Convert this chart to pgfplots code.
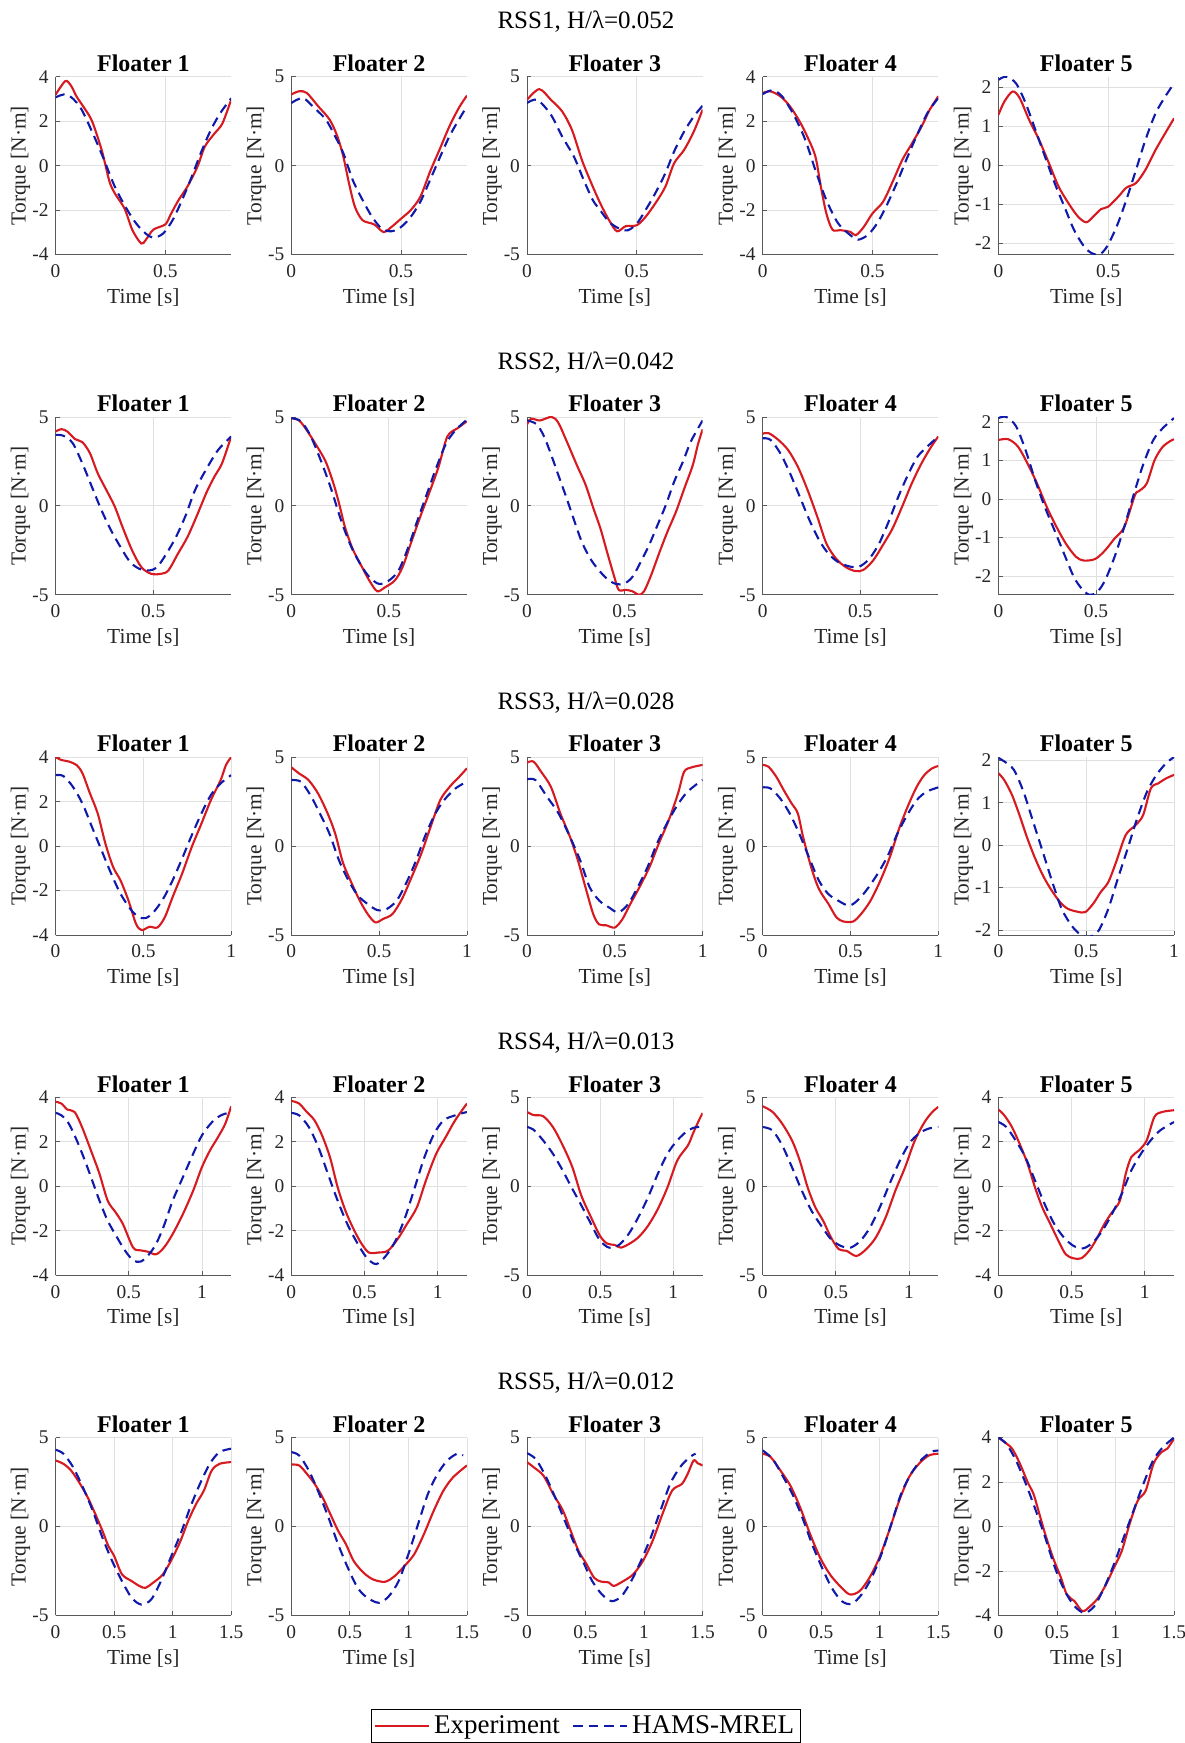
\documentclass[border=0pt]{standalone}
\usepackage{fontspec}
\setmainfont{Liberation Serif}
\usepackage{pgfplots}
\pgfplotsset{compat=1.18}
\definecolor{expred}{RGB}{215,25,32}
\definecolor{hamsblue}{RGB}{15,25,170}
\pgfplotsset{
  sub/.style={
    scale only axis, width=87.8pt, height=88.95pt, anchor=north west,
    axis lines*=left, xmin=0, enlargelimits=false,
    grid=major, major grid style={draw=black!12, line width=0.4pt},
    axis line style={draw=black!65, line width=0.5pt},
    tick style={draw=black!65, line width=0.4pt},
    tick align=inside, major tick length=2.2pt,
    xlabel={Time [s]}, ylabel={Torque [N·m]},
    /pgf/number format/assume math mode=true,
    ticklabel style={font=\fontsize{9.7}{11}\selectfont, text=black!85},
    xticklabel style={yshift=-1.5pt},
    label style={font=\fontsize{10.7}{12}\selectfont, text=black!85},
    xlabel style={yshift=1.6pt},
    ylabel style={yshift=-5.8pt},
    title style={font=\bfseries\fontsize{12}{14}\selectfont, yshift=-7pt},
    scaled ticks=false,
  },
  exp/.style={color=expred, solid, line width=1.05pt, smooth, tension=0.5},
  hams/.style={color=hamsblue, dash pattern=on 4.8pt off 3pt, line width=1.05pt, smooth, tension=0.5},
}
\begin{document}
\begin{tikzpicture}
\useasboundingbox (0,0) rectangle (592pt,-871.5pt);
\node[font=\fontsize{12.5}{14}\selectfont] at (293pt,-11pt) {RSS1, H/λ=0.052};
\node[font=\fontsize{12.5}{14}\selectfont] at (293pt,-181.1pt) {RSS2, H/λ=0.042};
\node[font=\fontsize{12.5}{14}\selectfont] at (293pt,-351.2pt) {RSS3, H/λ=0.028};
\node[font=\fontsize{12.5}{14}\selectfont] at (293pt,-521.3pt) {RSS4, H/λ=0.013};
\node[font=\fontsize{12.5}{14}\selectfont] at (293pt,-691.35pt) {RSS5, H/λ=0.012};

% ================= Row 1 =================
\begin{axis}[sub, at={(27.8pt,-38.35pt)}, xmax=0.8, ymin=-4, ymax=4, ytick={-4,-2,0,2,4}, xtick={0,0.5}, title={Floater 1}]
\addplot[exp] coordinates {(0,3.19)(0.044,3.8)(0.07,3.6)(0.096,3.1)(0.13,2.6)(0.166,2.0)(0.21,0.7)(0.245,-0.7)(0.27,-1.25)(0.314,-1.93)(0.35,-2.9)(0.39,-3.5)(0.41,-3.35)(0.445,-2.88)(0.5,-2.64)(0.524,-2.2)(0.56,-1.55)(0.6,-0.95)(0.646,-0.05)(0.68,0.86)(0.725,1.46)(0.76,1.9)(0.8,2.97)};
\addplot[hams] coordinates {(0,3.07)(0.052,3.2)(0.11,2.66)(0.166,1.53)(0.218,0.33)(0.27,-0.95)(0.323,-1.93)(0.367,-2.6)(0.41,-3.05)(0.445,-3.24)(0.49,-3.05)(0.533,-2.45)(0.576,-1.55)(0.62,-0.5)(0.664,0.63)(0.707,1.6)(0.75,2.36)(0.8,3.03)};
\end{axis}
\begin{axis}[sub, at={(145.65pt,-38.35pt)}, xmax=0.8, ymin=-5, ymax=5, ytick={-5,0,5}, xtick={0,0.5}, title={Floater 2}]
\addplot[exp] coordinates {(0,4.0)(0.035,4.18)(0.07,4.09)(0.123,3.33)(0.175,2.58)(0.21,1.64)(0.237,0.51)(0.263,-1.0)(0.29,-2.32)(0.325,-3.07)(0.377,-3.3)(0.42,-3.73)(0.456,-3.45)(0.5,-2.98)(0.544,-2.5)(0.588,-1.75)(0.632,-0.34)(0.675,0.89)(0.72,2.2)(0.763,3.24)(0.8,3.94)};
\addplot[hams] coordinates {(0,3.52)(0.053,3.8)(0.105,3.24)(0.158,2.58)(0.2,1.64)(0.237,0.7)(0.28,-0.81)(0.325,-1.94)(0.368,-2.88)(0.412,-3.54)(0.456,-3.69)(0.5,-3.45)(0.544,-2.88)(0.588,-2.03)(0.632,-0.81)(0.675,0.41)(0.72,1.64)(0.763,2.58)(0.8,3.33)};
\end{axis}
\begin{axis}[sub, at={(263.5pt,-38.35pt)}, xmax=0.8, ymin=-5, ymax=5, ytick={-5,0,5}, xtick={0,0.5}, title={Floater 3}]
\addplot[exp] coordinates {(0,3.7)(0.056,4.3)(0.109,3.7)(0.16,3.05)(0.205,2.0)(0.25,0.32)(0.29,-0.9)(0.333,-2.1)(0.374,-3.07)(0.41,-3.69)(0.45,-3.4)(0.5,-3.35)(0.54,-2.88)(0.584,-2.13)(0.63,-1.19)(0.67,0.13)(0.716,0.89)(0.76,1.92)(0.8,3.15)};
\addplot[hams] coordinates {(0,3.52)(0.047,3.7)(0.109,2.86)(0.16,1.64)(0.214,0.5)(0.258,-0.8)(0.3,-1.94)(0.333,-2.5)(0.374,-3.16)(0.42,-3.54)(0.46,-3.63)(0.5,-3.26)(0.54,-2.5)(0.584,-1.56)(0.63,-0.43)(0.67,0.79)(0.716,1.92)(0.76,2.77)(0.8,3.37)};
\end{axis}
\begin{axis}[sub, at={(381.35pt,-38.35pt)}, xmax=0.8, ymin=-4, ymax=4, ytick={-4,-2,0,2,4}, xtick={0,0.5}, title={Floater 4}]
\addplot[exp] coordinates {(0,3.27)(0.035,3.34)(0.08,3.12)(0.124,2.67)(0.168,1.99)(0.203,1.31)(0.24,0.41)(0.265,-0.95)(0.29,-2.15)(0.318,-2.88)(0.353,-2.9)(0.4,-2.98)(0.424,-3.13)(0.46,-2.76)(0.5,-2.15)(0.548,-1.63)(0.592,-0.72)(0.636,0.26)(0.68,1.0)(0.724,1.76)(0.76,2.5)(0.8,3.12)};
\addplot[hams] coordinates {(0,3.22)(0.044,3.39)(0.088,3.12)(0.141,2.29)(0.194,1.16)(0.24,-0.2)(0.29,-1.55)(0.344,-2.6)(0.4,-3.13)(0.433,-3.33)(0.477,-3.13)(0.521,-2.6)(0.565,-1.78)(0.61,-0.8)(0.654,0.26)(0.7,1.31)(0.75,2.36)(0.8,3.04)};
\end{axis}
\begin{axis}[sub, at={(499.2pt,-38.35pt)}, xmax=0.8, ymin=-2.3, ymax=2.27, ytick={-2,-1,0,1,2}, xtick={0,0.5}, title={Floater 5}]
\addplot[exp] coordinates {(0,1.29)(0.027,1.63)(0.065,1.89)(0.097,1.72)(0.14,1.16)(0.185,0.65)(0.23,0.05)(0.274,-0.55)(0.318,-0.97)(0.362,-1.32)(0.4,-1.47)(0.433,-1.32)(0.468,-1.13)(0.5,-1.07)(0.548,-0.8)(0.583,-0.58)(0.627,-0.46)(0.67,-0.12)(0.716,0.39)(0.76,0.82)(0.8,1.2)};
\addplot[hams] coordinates {(0,2.19)(0.035,2.27)(0.08,2.1)(0.124,1.59)(0.168,0.91)(0.212,0.22)(0.256,-0.46)(0.3,-1.06)(0.344,-1.66)(0.39,-2.09)(0.424,-2.26)(0.46,-2.3)(0.495,-2.09)(0.54,-1.56)(0.583,-0.89)(0.627,-0.12)(0.67,0.65)(0.716,1.33)(0.76,1.76)(0.8,2.1)};
\end{axis}

% ================= Row 2 =================
\begin{axis}[sub, at={(27.8pt,-208.45pt)}, xmax=0.9, ymin=-5, ymax=5, ytick={-5,0,5}, xtick={0,0.5}, title={Floater 1}]
\addplot[exp] coordinates {(0,4.18)(0.03,4.31)(0.06,4.18)(0.1,3.75)(0.137,3.58)(0.176,2.96)(0.216,1.83)(0.265,0.79)(0.304,-0.06)(0.343,-1.19)(0.392,-2.5)(0.44,-3.45)(0.49,-3.82)(0.54,-3.82)(0.578,-3.63)(0.627,-2.69)(0.676,-1.75)(0.725,-0.53)(0.775,0.79)(0.814,1.64)(0.853,2.39)(0.9,3.9)};
\addplot[hams] coordinates {(0,3.99)(0.04,3.94)(0.088,3.52)(0.137,2.39)(0.186,1.07)(0.235,-0.24)(0.284,-1.37)(0.333,-2.32)(0.382,-3.16)(0.43,-3.54)(0.48,-3.63)(0.52,-3.45)(0.568,-2.69)(0.617,-1.75)(0.667,-0.53)(0.715,0.89)(0.775,2.11)(0.833,3.14)(0.9,3.9)};
\end{axis}
\begin{axis}[sub, at={(145.65pt,-208.45pt)}, xmax=0.9, ymin=-5, ymax=5, ytick={-5,0,5}, xtick={0,0.5}, title={Floater 2}]
\addplot[exp] coordinates {(0,4.93)(0.04,4.8)(0.078,4.27)(0.127,3.43)(0.176,2.49)(0.216,1.26)(0.245,0.13)(0.275,-1.19)(0.314,-2.41)(0.363,-3.45)(0.4,-4.2)(0.44,-4.8)(0.48,-4.58)(0.53,-4.2)(0.57,-3.45)(0.618,-1.94)(0.667,-0.43)(0.706,0.7)(0.755,2.2)(0.8,3.9)(0.853,4.37)(0.9,4.75)};
\addplot[hams] coordinates {(0,4.93)(0.05,4.75)(0.1,3.9)(0.157,2.39)(0.206,0.89)(0.255,-0.81)(0.304,-2.22)(0.353,-3.26)(0.4,-4.0)(0.45,-4.39)(0.5,-4.2)(0.55,-3.63)(0.6,-2.32)(0.647,-0.81)(0.696,0.7)(0.745,2.2)(0.794,3.52)(0.843,4.27)(0.9,4.84)};
\end{axis}
\begin{axis}[sub, at={(263.5pt,-208.45pt)}, xmax=0.9, ymin=-5, ymax=5, ytick={-5,0,5}, xtick={0,0.5}, title={Floater 3}]
\addplot[exp] coordinates {(0,4.58)(0.022,4.9)(0.066,4.8)(0.126,5.0)(0.16,4.68)(0.203,3.64)(0.255,2.3)(0.3,1.19)(0.34,-0.13)(0.376,-1.26)(0.41,-2.58)(0.445,-3.9)(0.47,-4.72)(0.505,-4.72)(0.54,-4.8)(0.574,-5.0)(0.6,-4.8)(0.636,-3.9)(0.68,-2.58)(0.72,-1.45)(0.764,-0.32)(0.807,1.0)(0.85,2.3)(0.876,3.45)(0.9,4.3)};
\addplot[hams] coordinates {(0,4.81)(0.048,4.6)(0.083,4.0)(0.117,3.08)(0.16,1.75)(0.203,0.43)(0.238,-0.7)(0.28,-2.0)(0.324,-2.96)(0.367,-3.6)(0.41,-4.1)(0.453,-4.38)(0.497,-4.38)(0.54,-4.0)(0.583,-3.15)(0.626,-2.2)(0.669,-1.08)(0.712,0.06)(0.755,1.38)(0.798,2.45)(0.841,3.64)(0.9,4.8)};
\end{axis}
\begin{axis}[sub, at={(381.35pt,-208.45pt)}, xmax=0.9, ymin=-5, ymax=5, ytick={-5,0,5}, xtick={0,0.5}, title={Floater 4}]
\addplot[exp] coordinates {(0,4.05)(0.03,4.09)(0.08,3.71)(0.13,3.14)(0.18,2.2)(0.23,0.89)(0.28,-0.62)(0.327,-2.13)(0.377,-2.98)(0.427,-3.45)(0.476,-3.67)(0.516,-3.6)(0.566,-3.07)(0.615,-2.22)(0.665,-1.28)(0.714,-0.06)(0.764,1.26)(0.814,2.39)(0.864,3.33)(0.9,3.9)};
\addplot[hams] coordinates {(0,3.8)(0.04,3.71)(0.09,2.96)(0.14,1.83)(0.19,0.51)(0.24,-0.81)(0.29,-1.94)(0.337,-2.69)(0.387,-3.16)(0.446,-3.41)(0.496,-3.41)(0.546,-2.98)(0.596,-2.13)(0.645,-0.9)(0.695,0.51)(0.744,1.73)(0.794,2.77)(0.853,3.43)(0.9,3.9)};
\end{axis}
\begin{axis}[sub, at={(499.2pt,-208.45pt)}, xmax=0.9, ymin=-2.49, ymax=2.13, ytick={-2,-1,0,1,2}, xtick={0,0.5}, title={Floater 5}]
\addplot[exp] coordinates {(0,1.53)(0.05,1.55)(0.1,1.36)(0.149,0.92)(0.198,0.4)(0.248,-0.21)(0.298,-0.73)(0.347,-1.17)(0.397,-1.5)(0.437,-1.6)(0.496,-1.56)(0.546,-1.34)(0.595,-1.03)(0.645,-0.73)(0.7,0.1)(0.72,0.2)(0.76,0.4)(0.8,1.0)(0.84,1.34)(0.88,1.5)(0.9,1.55)};
\addplot[hams] coordinates {(0,2.1)(0.04,2.13)(0.09,1.89)(0.139,1.27)(0.188,0.49)(0.238,-0.21)(0.288,-0.82)(0.337,-1.43)(0.387,-2.03)(0.427,-2.33)(0.466,-2.49)(0.506,-2.42)(0.546,-2.12)(0.595,-1.51)(0.645,-0.73)(0.695,0.14)(0.744,0.92)(0.794,1.53)(0.843,1.84)(0.9,2.1)};
\end{axis}

% ================= Row 3 =================
\begin{axis}[sub, at={(27.8pt,-378.55pt)}, xmax=1, ymin=-4, ymax=4, ytick={-4,-2,0,2,4}, xtick={0,0.5,1}, title={Floater 1}]
\addplot[exp] coordinates {(0,4.0)(0.033,3.87)(0.076,3.8)(0.12,3.64)(0.153,3.27)(0.196,2.36)(0.24,1.46)(0.284,0.1)(0.328,-0.95)(0.37,-1.55)(0.415,-2.45)(0.458,-3.5)(0.49,-3.78)(0.535,-3.63)(0.58,-3.66)(0.622,-3.2)(0.666,-2.3)(0.72,-1.25)(0.775,-0.05)(0.83,1.0)(0.884,2.06)(0.94,2.97)(0.97,3.64)(1.0,4.0)};
\addplot[hams] coordinates {(0,3.19)(0.044,3.15)(0.098,2.67)(0.153,1.91)(0.207,0.86)(0.262,-0.2)(0.317,-1.25)(0.37,-2.15)(0.426,-2.83)(0.47,-3.18)(0.513,-3.24)(0.557,-2.98)(0.612,-2.38)(0.666,-1.55)(0.72,-0.57)(0.775,0.48)(0.83,1.46)(0.884,2.29)(0.94,2.82)(1.0,3.19)};
\end{axis}
\begin{axis}[sub, at={(145.65pt,-378.55pt)}, xmax=1, ymin=-5, ymax=5, ytick={-5,0,5}, xtick={0,0.5,1}, title={Floater 2}]
\addplot[exp] coordinates {(0,4.43)(0.043,4.09)(0.098,3.71)(0.152,2.96)(0.207,1.83)(0.25,0.7)(0.293,-0.9)(0.337,-1.94)(0.39,-3.07)(0.435,-3.82)(0.478,-4.29)(0.522,-4.1)(0.576,-3.82)(0.63,-2.98)(0.685,-1.75)(0.74,-0.43)(0.793,1.07)(0.848,2.58)(0.902,3.33)(0.957,3.9)(1.0,4.37)};
\addplot[hams] coordinates {(0,3.71)(0.054,3.62)(0.109,2.86)(0.163,1.83)(0.217,0.7)(0.272,-0.81)(0.326,-1.94)(0.38,-2.79)(0.435,-3.26)(0.49,-3.6)(0.543,-3.54)(0.6,-3.07)(0.652,-2.13)(0.707,-0.9)(0.76,0.51)(0.815,1.73)(0.87,2.58)(0.935,3.24)(1.0,3.62)};
\end{axis}
\begin{axis}[sub, at={(263.5pt,-378.55pt)}, xmax=1, ymin=-5, ymax=5, ytick={-5,0,5}, xtick={0,0.5,1}, title={Floater 3}]
\addplot[exp] coordinates {(0,4.69)(0.037,4.75)(0.08,4.18)(0.136,3.33)(0.19,1.83)(0.245,0.51)(0.29,-0.81)(0.333,-2.32)(0.377,-3.82)(0.41,-4.4)(0.45,-4.45)(0.5,-4.58)(0.544,-4.1)(0.588,-3.26)(0.64,-2.32)(0.697,-1.19)(0.75,0.13)(0.807,1.45)(0.86,2.96)(0.895,4.18)(0.94,4.43)(1.0,4.56)};
\addplot[hams] coordinates {(0,3.75)(0.048,3.71)(0.114,2.77)(0.18,1.83)(0.245,0.51)(0.303,-0.81)(0.357,-2.32)(0.412,-3.07)(0.467,-3.45)(0.52,-3.73)(0.576,-3.26)(0.63,-2.32)(0.686,-1.19)(0.74,0.13)(0.796,1.26)(0.85,2.2)(0.905,2.96)(0.96,3.43)(1.0,3.71)};
\end{axis}
\begin{axis}[sub, at={(381.35pt,-378.55pt)}, xmax=1, ymin=-5, ymax=5, ytick={-5,0,5}, xtick={0,0.5,1}, title={Floater 4}]
\addplot[exp] coordinates {(0,4.56)(0.033,4.46)(0.077,3.9)(0.12,3.14)(0.165,2.39)(0.2,1.83)(0.23,0.51)(0.276,-1.19)(0.32,-2.41)(0.375,-3.26)(0.42,-4.01)(0.46,-4.24)(0.515,-4.24)(0.56,-3.82)(0.614,-3.07)(0.67,-1.94)(0.724,-0.62)(0.78,1.07)(0.833,2.39)(0.877,3.33)(0.92,3.99)(0.965,4.37)(1.0,4.5)};
\addplot[hams] coordinates {(0,3.3)(0.044,3.24)(0.1,2.67)(0.154,1.83)(0.208,0.7)(0.263,-0.62)(0.32,-1.94)(0.373,-2.69)(0.43,-3.07)(0.493,-3.35)(0.548,-2.98)(0.603,-2.32)(0.66,-1.47)(0.713,-0.53)(0.767,0.7)(0.822,1.73)(0.877,2.58)(0.932,3.05)(1.0,3.3)};
\end{axis}
\begin{axis}[sub, at={(499.2pt,-378.55pt)}, xmax=1, ymin=-2.12, ymax=2.08, ytick={-2,-1,0,1,2}, xtick={0,0.5,1}, title={Floater 5}]
\addplot[exp] coordinates {(0,1.7)(0.033,1.54)(0.077,1.19)(0.12,0.71)(0.165,0.16)(0.21,-0.32)(0.253,-0.71)(0.297,-1.03)(0.35,-1.34)(0.395,-1.5)(0.45,-1.57)(0.494,-1.58)(0.54,-1.38)(0.582,-1.11)(0.626,-0.87)(0.67,-0.4)(0.725,0.24)(0.78,0.47)(0.824,0.71)(0.868,1.34)(0.91,1.46)(0.956,1.58)(1.0,1.66)};
\addplot[hams] coordinates {(0,2.06)(0.033,1.98)(0.088,1.78)(0.143,1.26)(0.198,0.55)(0.253,-0.16)(0.307,-0.87)(0.36,-1.5)(0.417,-1.9)(0.47,-2.12)(0.515,-2.17)(0.57,-2.02)(0.626,-1.5)(0.68,-0.79)(0.736,-0.08)(0.79,0.63)(0.846,1.26)(0.9,1.66)(0.956,1.94)(1.0,2.08)};
\end{axis}

% ================= Row 4 =================
\begin{axis}[sub, at={(27.8pt,-548.65pt)}, xmax=1.2, ymin=-4, ymax=4, ytick={-4,-2,0,2,4}, xtick={0,0.5,1}, title={Floater 1}]
\addplot[exp] coordinates {(0,3.8)(0.04,3.72)(0.08,3.45)(0.13,3.34)(0.18,2.67)(0.25,1.46)(0.3,0.56)(0.356,-0.65)(0.41,-1.17)(0.46,-1.7)(0.53,-2.76)(0.58,-2.88)(0.63,-2.94)(0.686,-3.06)(0.74,-2.76)(0.8,-2.15)(0.87,-1.25)(0.94,-0.2)(1.0,0.86)(1.055,1.61)(1.11,2.21)(1.16,2.82)(1.2,3.6)};
\addplot[hams] coordinates {(0,3.3)(0.04,3.19)(0.09,2.82)(0.145,2.06)(0.2,1.16)(0.25,0.26)(0.3,-0.65)(0.356,-1.55)(0.42,-2.3)(0.475,-2.9)(0.53,-3.33)(0.58,-3.39)(0.63,-3.13)(0.686,-2.6)(0.74,-1.78)(0.8,-0.65)(0.87,0.41)(0.94,1.46)(1.0,2.29)(1.07,2.89)(1.13,3.19)(1.2,3.34)};
\end{axis}
\begin{axis}[sub, at={(145.65pt,-548.65pt)}, xmax=1.2, ymin=-4, ymax=4, ytick={-4,-2,0,2,4}, xtick={0,0.5,1}, title={Floater 2}]
\addplot[exp] coordinates {(0,3.84)(0.053,3.72)(0.106,3.34)(0.158,2.97)(0.21,2.29)(0.264,1.31)(0.317,-0.05)(0.37,-1.1)(0.42,-1.85)(0.475,-2.53)(0.53,-2.98)(0.594,-2.98)(0.66,-2.9)(0.726,-2.38)(0.79,-1.7)(0.858,-0.95)(0.92,0.26)(0.99,1.46)(1.055,2.21)(1.12,2.97)(1.2,3.72)};
\addplot[hams] coordinates {(0,3.3)(0.053,3.19)(0.119,2.67)(0.185,1.76)(0.25,0.56)(0.317,-0.65)(0.383,-1.7)(0.449,-2.53)(0.515,-3.21)(0.58,-3.5)(0.646,-3.13)(0.712,-2.45)(0.778,-1.4)(0.844,-0.05)(0.91,1.31)(0.976,2.36)(1.042,2.97)(1.12,3.19)(1.2,3.34)};
\end{axis}
\begin{axis}[sub, at={(263.5pt,-548.65pt)}, xmax=1.2, ymin=-5, ymax=5, ytick={-5,0,5}, xtick={0,0.5,1}, title={Floater 3}]
\addplot[exp] coordinates {(0,4.18)(0.045,4.0)(0.11,3.94)(0.177,3.33)(0.244,2.3)(0.31,1.07)(0.37,-0.5)(0.435,-1.7)(0.5,-2.8)(0.548,-3.22)(0.6,-3.3)(0.64,-3.45)(0.694,-3.26)(0.76,-2.88)(0.827,-2.22)(0.894,-1.28)(0.96,-0.06)(1.027,1.45)(1.1,2.3)(1.134,2.96)(1.175,3.71)(1.2,4.12)};
\addplot[hams] coordinates {(0,3.33)(0.045,3.18)(0.11,2.58)(0.177,1.83)(0.244,0.89)(0.3,0.0)(0.36,-0.9)(0.43,-2.0)(0.495,-3.0)(0.56,-3.45)(0.628,-3.3)(0.694,-2.69)(0.76,-1.75)(0.827,-0.62)(0.894,0.7)(0.96,1.83)(1.027,2.58)(1.1,3.14)(1.16,3.33)(1.2,3.33)};
\end{axis}
\begin{axis}[sub, at={(381.35pt,-548.65pt)}, xmax=1.2, ymin=-5, ymax=5, ytick={-5,0,5}, xtick={0,0.5,1}, title={Floater 4}]
\addplot[exp] coordinates {(0,4.5)(0.067,4.18)(0.133,3.52)(0.2,2.58)(0.253,1.45)(0.307,-0.06)(0.36,-1.19)(0.413,-1.94)(0.467,-2.88)(0.52,-3.54)(0.573,-3.63)(0.64,-3.92)(0.707,-3.54)(0.773,-2.88)(0.84,-1.75)(0.907,-0.24)(0.973,1.07)(1.04,2.58)(1.107,3.62)(1.16,4.18)(1.2,4.46)};
\addplot[hams] coordinates {(0,3.33)(0.067,3.14)(0.133,2.3)(0.2,1.07)(0.267,-0.24)(0.333,-1.37)(0.4,-2.22)(0.467,-2.98)(0.533,-3.35)(0.6,-3.45)(0.667,-3.07)(0.733,-2.32)(0.8,-1.19)(0.867,0.13)(0.933,1.36)(1.0,2.39)(1.067,2.96)(1.133,3.24)(1.2,3.33)};
\end{axis}
\begin{axis}[sub, at={(499.2pt,-548.65pt)}, xmax=1.2, ymin=-4, ymax=4, ytick={-4,-2,0,2,4}, xtick={0,0.5,1}, title={Floater 5}]
\addplot[exp] coordinates {(0,3.45)(0.04,3.19)(0.092,2.67)(0.145,1.91)(0.2,1.0)(0.25,-0.05)(0.3,-0.95)(0.355,-1.7)(0.41,-2.45)(0.46,-3.06)(0.513,-3.24)(0.566,-3.24)(0.62,-2.9)(0.67,-2.38)(0.724,-1.7)(0.776,-1.17)(0.83,-0.65)(0.87,0.56)(0.908,1.31)(0.96,1.61)(1.013,2.06)(1.066,3.12)(1.118,3.34)(1.2,3.42)};
\addplot[hams] coordinates {(0,2.89)(0.053,2.67)(0.118,2.06)(0.184,1.31)(0.25,0.26)(0.316,-0.8)(0.382,-1.7)(0.447,-2.3)(0.513,-2.68)(0.58,-2.79)(0.645,-2.53)(0.71,-2.0)(0.776,-1.25)(0.842,-0.35)(0.908,0.71)(0.974,1.46)(1.04,2.06)(1.105,2.51)(1.2,2.89)};
\end{axis}

% ================= Row 5 =================
\begin{axis}[sub, at={(27.8pt,-718.75pt)}, xmax=1.5, ymin=-5, ymax=5, ytick={-5,0,5}, xtick={0,0.5,1,1.5}, title={Floater 1}]
\addplot[exp] coordinates {(0,3.71)(0.067,3.52)(0.133,3.14)(0.2,2.49)(0.267,1.73)(0.333,0.79)(0.4,-0.24)(0.45,-1.09)(0.5,-1.66)(0.567,-2.69)(0.65,-3.07)(0.717,-3.35)(0.767,-3.45)(0.833,-3.16)(0.917,-2.69)(1.0,-1.75)(1.067,-0.81)(1.133,0.32)(1.2,1.26)(1.267,2.02)(1.333,3.14)(1.4,3.52)(1.5,3.62)};
\addplot[hams] coordinates {(0,4.31)(0.067,4.09)(0.15,3.33)(0.233,2.2)(0.317,0.89)(0.4,-0.62)(0.483,-1.94)(0.567,-3.07)(0.65,-4.01)(0.733,-4.39)(0.817,-4.1)(0.9,-3.07)(0.983,-1.75)(1.067,-0.43)(1.15,1.07)(1.233,2.39)(1.317,3.52)(1.4,4.18)(1.5,4.37)};
\end{axis}
\begin{axis}[sub, at={(145.65pt,-718.75pt)}, xmax=1.5, ymin=-5, ymax=5, ytick={-5,0,5}, xtick={0,0.5,1,1.5}, title={Floater 2}]
\addplot[exp] coordinates {(0,3.48)(0.067,3.43)(0.133,2.96)(0.2,2.39)(0.267,1.64)(0.333,0.7)(0.4,-0.24)(0.467,-1.0)(0.533,-1.94)(0.617,-2.6)(0.7,-2.98)(0.8,-3.11)(0.883,-2.79)(0.967,-2.22)(1.05,-1.56)(1.133,-0.43)(1.217,0.89)(1.3,2.02)(1.383,2.77)(1.5,3.43)};
\addplot[hams] coordinates {(0,4.18)(0.067,3.99)(0.15,3.14)(0.233,1.92)(0.317,0.51)(0.4,-1.0)(0.483,-2.32)(0.567,-3.45)(0.65,-4.01)(0.75,-4.29)(0.833,-3.92)(0.917,-3.07)(1.0,-1.56)(1.083,0.13)(1.167,1.83)(1.25,2.96)(1.333,3.71)(1.417,4.09)(1.467,3.99)};
\end{axis}
\begin{axis}[sub, at={(263.5pt,-718.75pt)}, xmax=1.5, ymin=-5, ymax=5, ytick={-5,0,5}, xtick={0,0.5,1,1.5}, title={Floater 3},
  legend style={at={(0.336,-0.527)}, anchor=north, legend columns=2, draw=black, line width=0.5pt,
    font=\fontsize{13.5}{15}\selectfont, inner sep=1pt, /tikz/every even column/.append style={column sep=4pt}},
  legend image code/.code={\draw[#1] (0pt,0pt) -- (27pt,0pt);}]
\addplot[exp] coordinates {(0,3.62)(0.057,3.33)(0.14,2.86)(0.223,1.83)(0.307,0.89)(0.373,-0.24)(0.44,-1.37)(0.507,-2.1)(0.573,-2.88)(0.633,-3.1)(0.7,-3.15)(0.74,-3.35)(0.823,-3.07)(0.907,-2.69)(0.99,-1.94)(1.073,-0.81)(1.157,0.7)(1.24,2.02)(1.323,2.39)(1.373,2.96)(1.423,3.71)(1.457,3.56)(1.5,3.43)};
\addlegendentry{Experiment}
\addplot[hams] coordinates {(0,4.12)(0.073,3.8)(0.157,2.86)(0.24,1.64)(0.323,0.32)(0.407,-1.0)(0.49,-2.13)(0.557,-3.07)(0.64,-3.82)(0.723,-4.2)(0.807,-3.92)(0.89,-3.07)(0.973,-1.94)(1.057,-0.62)(1.14,0.89)(1.223,2.39)(1.307,3.33)(1.39,3.9)(1.44,4.09)};
\addlegendentry{HAMS-MREL}
\end{axis}
\begin{axis}[sub, at={(381.35pt,-718.75pt)}, xmax=1.5, ymin=-5, ymax=5, ytick={-5,0,5}, xtick={0,0.5,1,1.5}, title={Floater 4}]
\addplot[exp] coordinates {(0,4.09)(0.068,3.9)(0.152,3.14)(0.236,2.3)(0.32,1.07)(0.405,-0.43)(0.49,-1.75)(0.574,-2.69)(0.66,-3.35)(0.743,-3.82)(0.828,-3.63)(0.912,-2.88)(0.997,-1.75)(1.08,-0.24)(1.166,1.45)(1.25,2.77)(1.334,3.52)(1.419,3.99)(1.5,4.09)};
\addplot[hams] coordinates {(0,4.27)(0.084,3.8)(0.169,2.86)(0.253,1.83)(0.338,0.51)(0.422,-1.0)(0.507,-2.32)(0.59,-3.45)(0.676,-4.2)(0.76,-4.35)(0.845,-3.82)(0.93,-2.88)(1.014,-1.56)(1.098,0.13)(1.182,1.83)(1.267,2.96)(1.35,3.71)(1.436,4.18)(1.5,4.27)};
\end{axis}
\begin{axis}[sub, at={(499.2pt,-718.75pt)}, xmax=1.5, ymin=-4, ymax=4, ytick={-4,-2,0,2,4}, xtick={0,0.5,1,1.5}, title={Floater 5}]
\addplot[exp] coordinates {(0,4.0)(0.05,3.8)(0.117,3.5)(0.184,2.82)(0.25,1.99)(0.3,1.46)(0.35,0.56)(0.4,-0.35)(0.466,-1.4)(0.534,-2.3)(0.584,-3.06)(0.65,-3.36)(0.718,-3.81)(0.785,-3.58)(0.852,-3.21)(0.92,-2.6)(0.987,-1.85)(1.054,-1.1)(1.12,0.1)(1.19,1.16)(1.258,1.61)(1.325,2.82)(1.392,3.34)(1.443,3.5)(1.5,3.95)};
\addplot[hams] coordinates {(0,4.0)(0.067,3.72)(0.15,2.97)(0.235,1.91)(0.32,0.71)(0.4,-0.5)(0.483,-1.85)(0.567,-2.9)(0.65,-3.58)(0.735,-3.89)(0.82,-3.58)(0.903,-2.76)(0.987,-1.7)(1.07,-0.5)(1.154,0.71)(1.238,1.91)(1.322,2.97)(1.406,3.57)(1.5,4.0)};
\end{axis}
\end{tikzpicture}
\end{document}
